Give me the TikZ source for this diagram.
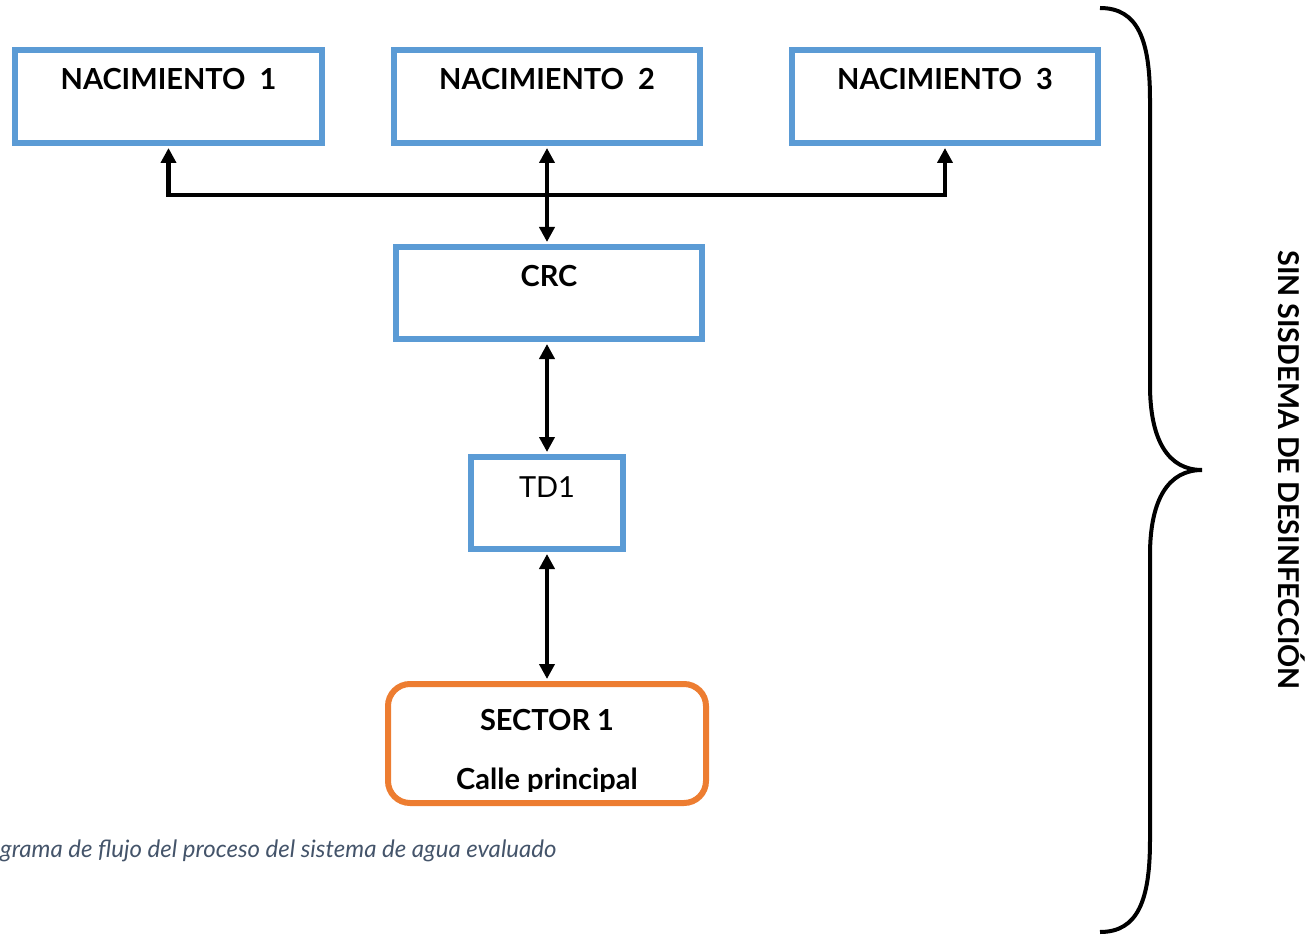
\documentclass[tikz,border=0pt]{standalone}
\usepackage{fontspec}
\setmainfont{Lato}
\usetikzlibrary{arrows.meta}
\definecolor{boxblue}{HTML}{5B9BD5}
\definecolor{boxorange}{HTML}{ED7D31}
\definecolor{captiongray}{HTML}{44546A}
\tikzset{
  bluebox/.style={draw=boxblue, line width=6pt, rectangle, inner sep=0pt},
  orangebox/.style={draw=boxorange, line width=6pt, rectangle, rounded corners=22pt, inner sep=0pt},
  boxtext/.style={font=\fontsize{29}{34}\selectfont\bfseries, inner sep=0pt, anchor=base},
  conn/.style={line width=4.5pt, {Triangle[width=15pt,length=15pt]}-{Triangle[width=15pt,length=15pt]}, shorten <=2pt, shorten >=2pt},
}
\begin{document}
\begin{tikzpicture}[x=1pt,y=-1pt]
\useasboundingbox (0,0) rectangle (1310,936);
% boxes
\node[bluebox, minimum width=307pt, minimum height=93pt] (n1) at (168.5,96.5) {};
\node[bluebox, minimum width=306pt, minimum height=93pt] (n2) at (547,96.5) {};
\node[bluebox, minimum width=306pt, minimum height=93pt] (n3) at (945,96.5) {};
\node[bluebox, minimum width=306pt, minimum height=92pt] (crc) at (549,293) {};
\node[bluebox, minimum width=152pt, minimum height=92pt] (td) at (547,503) {};
\node[orangebox, minimum width=318pt, minimum height=119pt] (sec) at (547,743.5) {};
% texts
\node[boxtext] (t1) at (168.5,90) {NACIMIENTO\ \ 1};
\node[boxtext] (t2) at (547,90) {NACIMIENTO\ \ 2};
\node[boxtext] (t3) at (945,90) {NACIMIENTO\ \ 3};
\node[boxtext] (tc) at (549,287) {CRC};
\node[boxtext, font=\fontsize{29}{34}\selectfont] (ttd) at (547,497) {TD1};
\node[boxtext] (ts) at (547,730) {SECTOR 1};
\begin{scope}
\clip (0,0) rectangle (1310,791);
\node[boxtext] (tcal) at (547,789) {Calle principal};
\end{scope}
% connectors
\coordinate (br) at (945,195);
\draw[conn] (n1.south) |- (br) -- (n3.south);
\draw[conn] (n2.south) -- (n2.south |- crc.north);
\draw[conn] (td.north |- crc.south) -- (td.north);
\draw[conn] (td.south) -- (sec.north);
% caption
\node[anchor=base west, inner sep=0pt, text=captiongray, font=\fontsize{24}{28}\selectfont\itshape] (cap) at (0,857) {grama de flujo del proceso del sistema de agua evaluado};
% brace
\draw[line width=4pt] (1100,8) .. controls (1138,8) and (1150,40) .. (1150,100) -- (1150,385)
  .. controls (1150,440) and (1168,470) .. (1202,470)
  .. controls (1168,470) and (1150,500) .. (1150,555) -- (1150,840)
  .. controls (1150,900) and (1138,932) .. (1100,932);
\node[rotate=-90, inner sep=0pt, font=\fontsize{28.7}{34}\selectfont\bfseries] (side) at (1292,470) {SIN SISDEMA DE DESINFECCIÓN};
\end{tikzpicture}
\end{document}
